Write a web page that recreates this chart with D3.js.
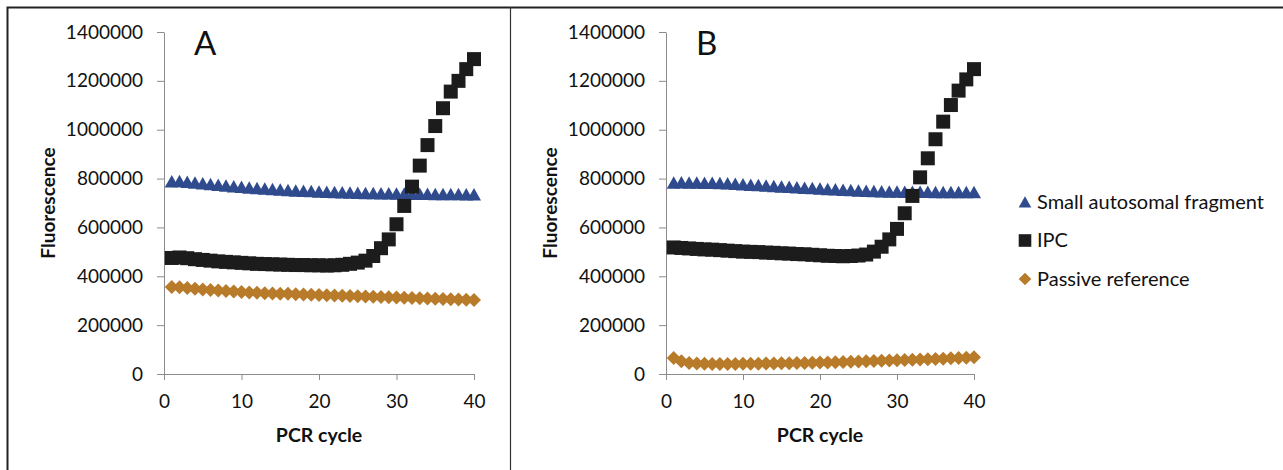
<!DOCTYPE html>
<html>
<head>
<meta charset="utf-8">
<script src="https://cdn.jsdelivr.net/npm/d3@7"></script>
<style>
  body { margin: 0; background: #fff; }
  svg { display: block; font-family: Lato, "Open Sans", sans-serif; }
</style>
</head>
<body>
<script>
// PCR cycles
var cycles = [1,2,3,4,5,6,7,8,9,10,11,12,13,14,15,16,17,18,19,20,
              21,22,23,24,25,26,27,28,29,30,31,32,33,34,35,36,37,38,39,40];

// panel A
var smallA = [788000,789000,786000,783000,780000,777000,774000,771000,768000,765000,
              762000,760000,758000,756000,754000,752000,750000,749000,748000,746000,
              745000,744000,743000,742000,741000,740000,740000,739000,739000,738000,
              738000,737000,737000,737000,736000,736000,736000,736000,735000,735000];
var ipcA = [475000,477000,474000,470000,467000,464000,461000,459000,457000,455000,
            453000,451000,450000,449000,448000,447000,446000,446000,445000,445000,
            444000,445000,447000,451000,456000,464000,483000,515000,551000,613000,
            688000,767000,853000,937000,1015000,1088000,1156000,1200000,1248000,1289000];
var passiveA = [356000,355000,352000,349000,346000,344000,342000,340000,338000,336000,
                334000,333000,331000,330000,329000,328000,326000,325000,324000,323000,
                322000,321000,320000,319000,318000,317000,316000,315000,314000,313000,
                312000,311000,310000,309000,308000,307000,306000,305000,304000,303000];

// panel B
var smallB = [783000,784000,783000,783000,782000,782000,781000,780000,778000,776000,
              774000,773000,771000,769000,767000,765000,763000,761000,760000,758000,
              756000,755000,753000,752000,750000,749000,748000,747000,746000,746000,
              745000,745000,745000,745000,744000,744000,744000,744000,744000,744000];
var ipcB = [518000,516000,514000,512000,510000,509000,507000,505000,503000,501000,
            500000,499000,497000,496000,494000,493000,491000,490000,488000,486000,
            484000,483000,482000,483000,485000,489000,501000,521000,551000,594000,
            658000,729000,805000,883000,961000,1033000,1101000,1160000,1206000,1248000];
var passiveB = [66000,52000,45000,43000,42000,41000,41000,41000,41000,42000,
                42000,42000,43000,43000,44000,44000,45000,45000,46000,47000,
                47000,48000,49000,50000,51000,52000,53000,54000,55000,56000,
                57000,58000,59000,60000,61000,62000,64000,65000,67000,69000];

var seriesNames = ["Small autosomal fragment", "IPC", "Passive reference"];
var yTicks = [0,200000,400000,600000,800000,1000000,1200000,1400000];
var xTicks = [0,10,20,30,40];
var panelLabels = ["A", "B"];

var colors = ["#2f4b8e", "#1c1c1c", "#b87b2a"];
var shapes = ["triangle", "square", "diamond"];

function markerPath(shape) {
  if (shape == "triangle") return "M0,-6.5L7,6L-7,6Z";
  if (shape == "square") return "M-7,-7H7V7H-7Z";
  return "M0,-7L7,0L0,7L-7,0Z";
}

var width = 1283, height = 470;

var svg = d3.select("body")
  .append("svg")
  .attr("width", width)
  .attr("height", height);

// frame
svg.append("path")
  .attr("d", "M7.5,470V7.5H1283")
  .attr("fill", "none")
  .attr("stroke", "#222")
  .attr("stroke-width", 2);
svg.append("line")
  .attr("x1", 510.5).attr("x2", 510.5)
  .attr("y1", 7).attr("y2", 470)
  .attr("stroke", "#333")
  .attr("stroke-width", 1.2);

var panels = [
  { label: panelLabels[0], left: 164, right: 474, data: [smallA, ipcA, passiveA] },
  { label: panelLabels[1], left: 666, right: 974, data: [smallB, ipcB, passiveB] }
];

var yScale = d3.scaleLinear()
  .domain([0, 1400000])
  .range([374, 32]);

panels.forEach(function(p) {
  var xScale = d3.scaleLinear()
    .domain([0, 40])
    .range([p.left, p.right]);

  var g = svg.append("g");

  var yAxis = g.append("g")
    .attr("transform", `translate(${p.left},0)`)
    .call(d3.axisLeft(yScale).tickValues(yTicks).tickFormat(d3.format("d"))
      .tickSize(7).tickSizeOuter(0).tickPadding(14));

  var xAxis = g.append("g")
    .attr("transform", `translate(0,${yScale(0)})`)
    .call(d3.axisBottom(xScale).tickValues(xTicks)
      .tickSize(6).tickSizeOuter(0).tickPadding(15));

  g.selectAll(".domain, .tick line")
    .attr("stroke", "#8c8c8c");
  g.selectAll(".tick text")
    .attr("fill", "#111")
    .style("font-family", "Lato, sans-serif")
    .style("font-size", "19px");

  g.append("text")
    .attr("text-anchor", "middle")
    .attr("transform", "translate(" + (p.left - 109) + "," + 203 + ")rotate(-90)")
    .style("font-size", "19px")
    .style("font-weight", "bold")
    .attr("fill", "#111")
    .text("Fluorescence");

  g.append("text")
    .attr("text-anchor", "middle")
    .attr("x", (p.left + p.right) / 2)
    .attr("y", 442)
    .style("font-size", "19.5px")
    .style("font-weight", "bold")
    .attr("fill", "#111")
    .text("PCR cycle");

  g.append("text")
    .attr("x", p.left + 30)
    .attr("y", 55)
    .style("font-size", "33px")
    .attr("fill", "#111")
    .text(p.label);

  p.data.forEach(function(values, i) {
    g.append("g")
      .selectAll("path")
      .data(values)
      .enter()
      .append("path")
        .attr("d", markerPath(shapes[i]))
        .attr("transform", function(d, j) {
          return "translate(" + xScale(cycles[j]) + "," + yScale(d) + ")";
        })
        .attr("fill", colors[i]);
  });
});

// legend
var legend = svg.append("g")
  .attr("transform", "translate(1025,202)");

var items = legend.selectAll("g")
  .data(seriesNames)
  .enter()
  .append("g")
    .attr("transform", function(d, i) { return "translate(0," + (i * 38.5) + ")"; });

items.append("path")
  .attr("d", function(d, i) { return markerPath(shapes[i]); })
  .attr("transform", "scale(0.9)")
  .attr("fill", function(d, i) { return colors[i]; });

items.append("text")
  .attr("x", 12)
  .attr("y", 6.5)
  .style("font-size", "20px")
  .attr("fill", "#111")
  .text(function(d) { return d; });
</script>
</body>
</html>
